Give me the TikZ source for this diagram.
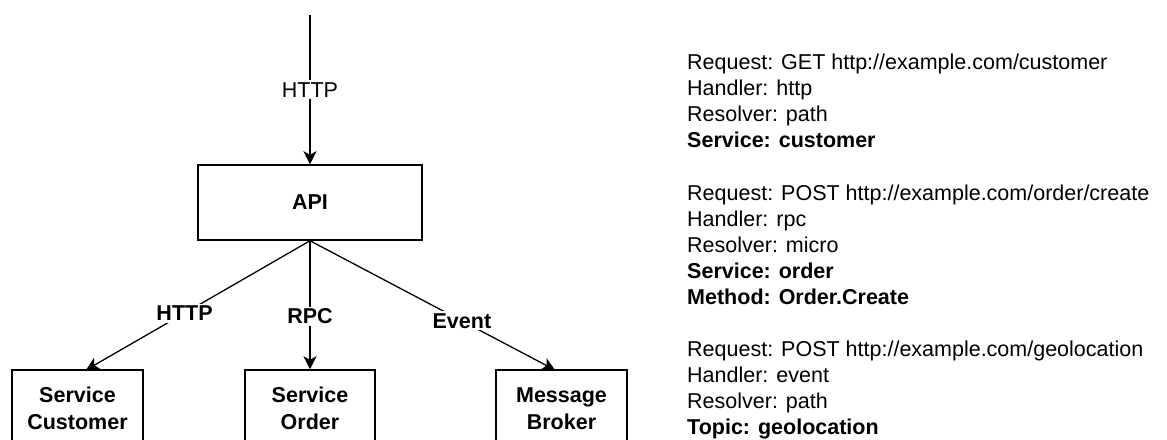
\documentclass[tikz,border=0pt]{standalone}
\usepackage{fontspec}
\setmainfont{Liberation Sans}
\usetikzlibrary{arrows.meta}
\begin{document}
\begin{tikzpicture}[x=1pt,y=-1pt,
  txt/.style={font=\fontsize{21.5}{26}\selectfont},
  box/.style={draw, line width=1.5pt, txt, font=\fontsize{21.5}{26.5}\selectfont\bfseries, align=center, inner sep=0pt},
  conn/.style={line width=1.3pt, -{Stealth[length=13pt,width=13pt,inset=3.5pt]}},
  elabel/.style={fill=white, inner sep=2pt, txt},
  rline/.style={anchor=base west, inner sep=0pt, txt}]
\useasboundingbox (0,0) rectangle (1167,439);
\clip (0,0) rectangle (1167,439);
% boxes
\node[box, minimum width=224pt, minimum height=75pt] (api) at (310,202.5) {API};
\node[box, minimum width=131pt, minimum height=77pt] (cust) at (77.5,408.5) {Service\\Customer};
\node[box, minimum width=130pt, minimum height=77pt] (order) at (310,408.5) {Service\\Order};
\node[box, minimum width=131pt, minimum height=77pt] (broker) at (561.5,408.5) {Message\\Broker};
% coordinates
\coordinate (top) at (310,15);
\coordinate (custin) at (86,370);
\coordinate (brokin) at (555,370);
% connectors
\draw[conn] (top) -- node[elabel, pos=0.5] {HTTP} (api.north);
\draw[conn] (api.south) -- node[elabel, pos=0.56, font=\fontsize{21.5}{26}\selectfont\bfseries] {HTTP} (custin);
\draw[conn] (api.south) -- node[elabel, pos=0.59, font=\fontsize{21.5}{26}\selectfont\bfseries] {RPC} (order.north);
\draw[conn] (api.south) -- node[elabel, pos=0.62, font=\fontsize{21.5}{26}\selectfont\bfseries] {Event} (brokin);
% right text
\node[rline] (l0) at (687,69.7) {Request: GET http://example.com/customer};
\node[rline] (l1) at (687,95.8) {Handler: http};
\node[rline] (l2) at (687,121.8) {Resolver: path};
\node[rline, font=\fontsize{21.5}{26}\selectfont\bfseries] (l3) at (687,147.9) {Service: customer};
\node[rline] (l5) at (687,200.1) {Request: POST http://example.com/order/create};
\node[rline] (l6) at (687,226.1) {Handler: rpc};
\node[rline] (l7) at (687,252.2) {Resolver: micro};
\node[rline, font=\fontsize{21.5}{26}\selectfont\bfseries] (l8) at (687,278.3) {Service: order};
\node[rline, font=\fontsize{21.5}{26}\selectfont\bfseries] (l9) at (687,304.3) {Method: Order.Create};
\node[rline] (l11) at (687,356.5) {Request: POST http://example.com/geolocation};
\node[rline] (l12) at (687,382.5) {Handler: event};
\node[rline] (l13) at (687,408.6) {Resolver: path};
\node[rline, font=\fontsize{21.5}{26}\selectfont\bfseries] (l14) at (687,434.7) {Topic: geolocation};
\end{tikzpicture}
\end{document}
